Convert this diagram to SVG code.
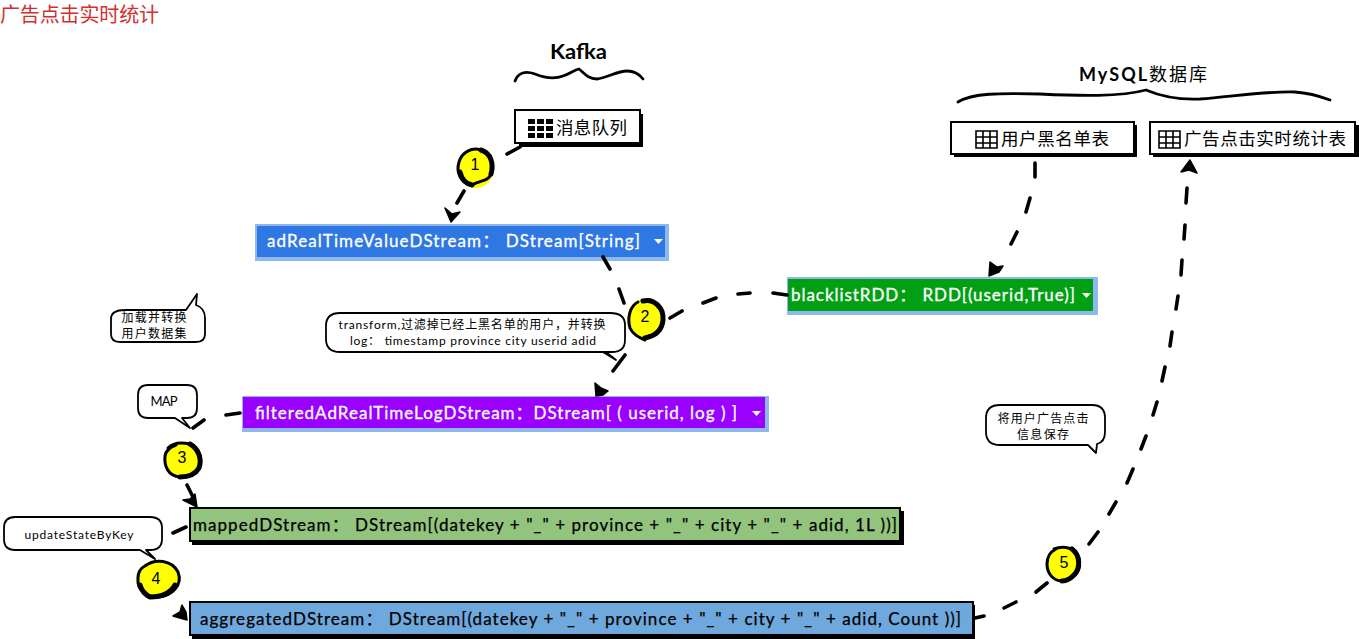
<svg xmlns="http://www.w3.org/2000/svg" width="1359" height="639" viewBox="0 0 1359 639">
<style>
text{font-family:Lato,"Noto Sans CJK SC",sans-serif}
.cjk{font-family:"Noto Sans CJK SC",sans-serif}
.box{fill:#fff;stroke:#000;stroke-width:2}
.sh{fill:#000}
.lsh{fill:#8fb8f0}
.w{fill:#fff;stroke:#fff;stroke-width:.3;font-size:17px}
.b{fill:#000;stroke:#000;stroke-width:.25;font-size:17px}
.d{fill:none;stroke:#000;stroke-width:3.6;stroke-linecap:round}
.h{fill:#000;stroke:#000;stroke-width:1.5;stroke-linejoin:round}
.c{fill:#fff;stroke:#000;stroke-width:1.8;stroke-linejoin:round}
.ct{font-size:12px;fill:#000;text-anchor:middle}
.y{fill:#ff0;stroke:none}
.o{fill:none;stroke:#000;stroke-width:3;stroke-linecap:round}
.o2{fill:none;stroke:#000;stroke-width:5;stroke-linecap:round}
.n{font-size:16px;fill:#000;text-anchor:middle;font-family:"Liberation Sans",sans-serif}
.br{fill:none;stroke:#000;stroke-width:2.8;stroke-linecap:round}
.car{fill:#fff}
</style>
<g id="title"><text x="0" y="22" class="cjk" font-size="20" fill="#d32f2f" textLength="159">广告点击实时统计</text></g>
<g id="kafka-label"><text x="550" y="59" font-size="20" font-weight="700" fill="#000" textLength="57" lengthAdjust="spacingAndGlyphs">Kafka</text>
<path class="br" d="M515 81C518 72 526 71 535 74C545 78 555 79 563 76C570 74 574 70 579 69C584 73 588 79 597 79C607 78 617 71 627 71C634 71 640 75 643 79"/></g>
<g id="mysql-label"><text x="1079" y="81" font-size="18" font-weight="700" fill="#000" textLength="128">MySQL<tspan font-weight="400" class="cjk">数据库</tspan></text>
<path class="br" d="M958 102C972 93 1000 93 1040 94C1080 96 1120 97 1146 90C1160 96 1175 100 1200 99C1230 97 1265 91 1295 92C1310 93 1322 97 1330 100"/></g>
<g id="queue"><rect class="sh" x="519" y="114" width="124" height="33"/><rect class="box" x="515" y="110" width="125" height="33"/>
<path d="M528 119h7v5h-7zM537 119h7v5h-7zM546 119h7v5h-7zM528 126h7v5h-7zM537 126h7v5h-7zM546 126h7v5h-7zM528 133h7v5h-7zM537 133h7v5h-7zM546 133h7v5h-7z" fill="#000"/>
<text x="556" y="134" class="cjk" font-size="17.5" fill="#000" textLength="71">消息队列</text></g>
<g id="blacklist-table"><rect class="sh" x="954" y="125" width="183" height="32"/><rect class="box" x="951" y="122" width="183" height="32"/>
<path d="M976 131h21v17h-21zM976 137h21M976 143h21M983 131v17M990 131v17" fill="none" stroke="#000" stroke-width="1.6"/>
<text x="1001" y="145" class="cjk" font-size="17.5" fill="#000" textLength="108">用户黑名单表</text></g>
<g id="stat-table"><rect class="sh" x="1153" y="125" width="206" height="32"/><rect class="box" x="1150" y="122" width="205" height="32"/>
<path d="M1159 131h21v17h-21zM1159 137h21M1159 143h21M1166 131v17M1173 131v17" fill="none" stroke="#000" stroke-width="1.6"/>
<text x="1184" y="145" class="cjk" font-size="17.5" fill="#000" textLength="162">广告点击实时统计表</text></g>
<g id="adRealTime"><rect class="lsh" x="255" y="224" width="414" height="37"/><rect x="257" y="226" width="408" height="31" fill="#2f77e3"/>
<text x="267" y="247" class="w" textLength="373">adRealTimeValueDStream：  DStream[String]</text><path class="car" d="M654 239h9l-4.500 5z"/></g>
<g id="blacklistRDD"><rect class="lsh" x="787" y="277" width="311" height="38"/><rect x="788" y="279" width="305" height="32" fill="#00a012"/>
<text x="791" y="301" class="w" textLength="284">blacklistRDD：  RDD[(userid,True)]</text><path class="car" d="M1082 293h9l-4.500 5z"/></g>
<g id="filtered"><rect class="lsh" x="242" y="396" width="527" height="36"/><rect x="243" y="397" width="522" height="31" fill="#9900ff"/>
<text x="255" y="419" class="w" textLength="482">filteredAdRealTimeLogDStream：DStream[ ( userid, log ) ]</text><path class="car" d="M752 411h9l-4.500 5z"/></g>
<g id="mapped"><rect class="sh" x="192" y="511" width="712" height="34"/><rect x="190" y="508" width="710" height="33" fill="#93c47d" stroke="#000" stroke-width="2"/>
<text x="193" y="531" class="b" textLength="704">mappedDStream：  DStream[(datekey + "_" + province + "_" + city + "_" + adid, 1L ))]</text></g>
<g id="aggregated"><rect class="sh" x="192" y="605" width="783" height="34"/><rect x="190" y="602" width="783" height="33" fill="#6fa8dc" stroke="#000" stroke-width="2"/>
<text x="200" y="625" class="b" textLength="761">aggregatedDStream：  DStream[(datekey + "_" + province + "_" + city + "_" + adid, Count ))]</text></g>
<g id="connectors">
<path class="d" d="M520 147L507 154M464 191L457 203M603 257L610 269M619 289L624 303M625 355L613 371M670 318L682 311M703 303L716 298M738 294L750 293M773 293L787 295M1035 163L1035 177M1030 198L1026 212M1017 232L1011 244M1187 188L1186 203M1185 225L1184 239M1182 260L1181 275M1178 296L1176 309M1172 332L1170 346M1165 367L1162 381M1157 402L1153 415M1146 436L1141 449M1133 469L1127 483M1116 502L1109 514M1098 532L1089 544M1047 583L1036 592M1016 602L1004 608M984 616L975 618M240 413L226 415M204 420L193 428M187 485L193 497M186 527L173 533"/>
<path class="h" d="M451 222L445 208L452 214L460 212Z"/>
<path class="h" d="M596 396L595 383L601 388L608 391L603 395Z"/>
<path class="h" d="M989 276L990 262L997 267L1003 266L999 272Z"/>
<path class="h" d="M1190 160L1181 172L1189 170L1197 173Z"/>
<path class="h" d="M197 507L183 500L190 499L195 494Z"/>
<path class="h" d="M187 620L173 616L180 612L182 605L186 612Z"/>
</g>
<g id="note-load"><path class="c" d="M125 310H186L197 294L196 305Q205 308 205 318V334Q205 342 196 342H120Q111 342 111 334V319Q111 310 125 310Z"/>
<text class="ct cjk" x="154" y="322" textLength="65">加载并转换</text>
<text class="ct cjk" x="154" y="338" textLength="65">用户数据集</text></g>
<g id="note-transform"><path class="c" d="M340 313H610Q625 313 625 325V340Q625 352 612 352H603L616 360L606 352H340Q326 352 326 339V326Q326 313 340 313Z"/>
<text class="ct" x="472" y="329" textLength="267">transform,<tspan class="cjk">过滤掉已经上黑名单的用户，并转换</tspan></text>
<text class="ct" x="473" y="345" textLength="246">log：  timestamp province city userid adid</text></g>
<g id="note-map"><path class="c" d="M148 385H187Q197 385 197 395V408Q197 418 187 418H182L190 428L175 418H148Q138 418 138 408V395Q138 385 148 385Z"/>
<text class="ct" x="164" y="406" style="font-size:13px" textLength="27">MAP</text></g>
<g id="note-update"><path class="c" d="M15 517H150Q162 517 162 528V539Q162 550 150 550H146L155 559L140 550H15Q4 550 4 539V528Q4 517 15 517Z"/>
<text class="ct" x="79" y="539" textLength="109">updateStateByKey</text></g>
<g id="note-save"><path class="c" d="M1000 405H1092Q1105 405 1105 418V432Q1105 442 1097 444L1096 453L1088 445H1000Q986 445 986 432V418Q986 405 1000 405Z"/>
<text class="ct cjk" x="1043" y="423" textLength="91">将用户广告点击</text>
<text class="ct cjk" x="1043" y="439" textLength="52">信息保存</text></g>
<g id="badge1"><ellipse class="y" cx="476" cy="168" rx="18" ry="20"/><path class="o" d="M472 185C460 183 456 172 459 162C462 152 472 147 481 150C491 153 494 164 491 174C488 182 480 180 472 185Z"/><path class="o2" d="M481 150C491 153 494 164 491 174M460 172C462 180 466 184 472 185"/><text class="n" x="475" y="170">1</text></g>
<g id="badge2"><ellipse class="y" cx="645" cy="319" rx="18" ry="20"/><path class="o" d="M638 302C630 306 627 318 630 328C633 335 640 338 645 340"/><path class="o2" d="M643 301C654 298 664 308 663 320C662 330 655 336 645 338"/><text class="n" x="645" y="322">2</text></g>
<g id="badge3"><ellipse class="y" cx="182" cy="460" rx="17" ry="18"/><path class="o" d="M168 448C176 440 196 441 200 455C203 470 192 477 180 477C168 476 164 466 165 456C166 450 170 447 176 445"/><path class="o2" d="M190 444C199 449 202 460 199 468C195 475 187 477 180 477"/><text class="n" x="182" y="463">3</text></g>
<g id="badge4"><ellipse class="y" cx="158" cy="579" rx="22" ry="19"/><path class="o" d="M145 566C155 558 172 560 178 572C183 585 172 596 158 597C146 597 137 590 138 578C138 572 141 568 145 566Z"/><path class="o2" d="M175 585C170 594 162 597 150 597M140 585C142 592 146 595 150 597"/><text class="n" x="156" y="584">4</text></g>
<g id="badge5"><ellipse class="y" cx="1063" cy="564" rx="17" ry="18"/><path class="o" d="M1054 549C1064 545 1076 548 1079 558C1082 570 1074 580 1062 581C1053 581 1047 573 1047 564C1047 557 1050 552 1056 549"/><path class="o2" d="M1072 549C1080 555 1081 568 1074 575C1070 579 1066 581 1062 581"/><text class="n" x="1064" y="568">5</text></g>
</svg>
